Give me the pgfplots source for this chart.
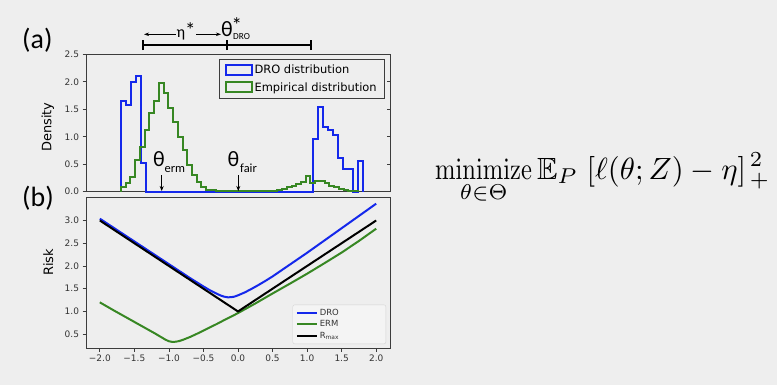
\documentclass[border=0pt]{standalone}
\usepackage{amsmath,amssymb}
\usepackage[no-math]{fontspec}
\setmainfont{DejaVu Sans}
\newfontfamily\carl{Carlito}
\usepackage{pgfplots}
\pgfplotsset{compat=1.18}
\usetikzlibrary{arrows.meta}
\definecolor{bg}{RGB}{238,238,238}
\definecolor{dro}{RGB}{20,40,235}
\definecolor{emp}{RGB}{55,135,35}
\definecolor{frm}{RGB}{60,60,60}
\pgfplotsset{
  droleg/.style={legend image code/.code={\draw[draw=dro,line width=2bp] (0bp,-5bp) rectangle (26bp,5bp);}},
  empleg/.style={legend image code/.code={\draw[draw=emp,line width=2bp] (0bp,-5bp) rectangle (26bp,5bp);}},
}
\begin{document}
\begin{tikzpicture}[x=1bp,y=1bp]
\useasboundingbox (0,0) rectangle (777,385);
\fill[bg] (0,0) rectangle (777,385);

% ---------- (a) histogram panel ----------
\begin{axis}[
  at={(86bp,193.3bp)}, anchor=south west,
  width=304bp, height=137.4bp, scale only axis,
  xmin=-2.2, xmax=2.2, ymin=0, ymax=2.5,
  xtick=\empty,
  ytick={0,0.5,1,1.5,2,2.5},
  yticklabels={0.0,0.5,1.0,1.5,2.0,2.5},
  ytick pos=left, tick align=outside,
  major tick length=3.5bp,
  tick style={frm, line width=0.7bp},
  axis line style={frm, line width=0.8bp},
  ticklabel style={font=\fontsize{9}{10}\selectfont, text=black!80},
  ylabel={Density},
  ylabel style={font=\fontsize{13}{15}\selectfont, at={(axis description cs:-0.126,0.47)}, anchor=center},
  clip=false,
  legend style={at={(0.980,0.966)}, anchor=north east, draw=frm, fill=bg,
    font=\fontsize{11.5}{13}\selectfont, inner xsep=5bp, inner ysep=3.5bp, row sep=3.5bp},
  legend cell align=left,
]
\addplot[draw=dro, line width=2bp, mark=none, forget plot] coordinates {
(-1.695,0) (-1.695,1.65) (-1.6236,1.65) (-1.6236,1.58) (-1.5521,1.58) (-1.5521,2.00)
(-1.4807,2.00) (-1.4807,2.10) (-1.4092,2.10) (-1.4092,0.52) (-1.3378,0.52) (-1.3378,0)
(1.0916,0) (1.0916,0.95) (1.1630,0.95) (1.1630,1.54) (1.2345,1.54) (1.2345,1.18)
(1.3059,1.18) (1.3059,1.12) (1.3774,1.12) (1.3774,1.03) (1.4488,1.03) (1.4488,0.62)
(1.5203,0.62) (1.5203,0.41) (1.6632,0.41) (1.6632,0) (1.7346,0) (1.7346,0.55)
(1.8061,0.55) (1.8061,0)
};
\addplot[draw=emp, line width=2bp, mark=none, forget plot] coordinates {
(-1.695,0) (-1.695,0.09) (-1.6264,0.09) (-1.6264,0.15) (-1.5578,0.15) (-1.5578,0.27)
(-1.4892,0.27) (-1.4892,0.57) (-1.4206,0.57) (-1.4206,0.82) (-1.3520,0.82) (-1.3520,1.12)
(-1.2834,1.12) (-1.2834,1.43) (-1.2148,1.43) (-1.2148,1.65) (-1.1462,1.65) (-1.1462,1.97)
(-1.0776,1.97) (-1.0776,1.80) (-1.0090,1.80) (-1.0090,1.53) (-0.9404,1.53) (-0.9404,1.27)
(-0.8718,1.27) (-0.8718,1.00) (-0.8032,1.00) (-0.8032,0.76) (-0.7346,0.76) (-0.7346,0.48)
(-0.6660,0.48) (-0.6660,0.30) (-0.5974,0.30) (-0.5974,0.18) (-0.5288,0.18) (-0.5288,0.09)
(-0.4602,0.09) (-0.4602,0.04) (-0.3916,0.04) (-0.3916,0.03) (-0.3230,0.03) (-0.3230,0.015)
(-0.2544,0.015) (-0.2544,0.01) (-0.1858,0.01) (-0.1858,0.005) (0.4316,0.005) (0.4316,0.01)
(0.5002,0.01) (0.5002,0.015) (0.5688,0.015) (0.5688,0.03) (0.6374,0.03) (0.6374,0.05)
(0.7060,0.05) (0.7060,0.08) (0.7746,0.08) (0.7746,0.11) (0.8432,0.11) (0.8432,0.14)
(0.9118,0.14) (0.9118,0.17) (0.9804,0.17) (0.9804,0.28) (1.0490,0.28) (1.0490,0.15)
(1.1176,0.15) (1.1176,0.20) (1.1862,0.20) (1.1862,0.19) (1.2548,0.19) (1.2548,0.15)
(1.3234,0.15) (1.3234,0.11) (1.3920,0.11) (1.3920,0.08) (1.4606,0.08) (1.4606,0.05)
(1.5292,0.05) (1.5292,0.03) (1.5978,0.03) (1.5978,0.02) (1.6664,0.02) (1.6664,0.01)
(1.7350,0.01) (1.7350,0)
};
\addlegendimage{droleg}
\addlegendentry{DRO distribution}
\addlegendimage{empleg}
\addlegendentry{Empirical distribution}
\end{axis}
% right-hand inward ticks of panel (a)
\begin{axis}[
  at={(86bp,193.3bp)}, anchor=south west,
  width=304bp, height=137.4bp, scale only axis,
  xmin=-2.2, xmax=2.2, ymin=0, ymax=2.5,
  hide x axis, axis y line*=right, y axis line style={draw=none},
  ytick={0,0.5,1,1.5,2,2.5}, yticklabels={},
  tick align=inside, major tick length=3.5bp,
  tick style={frm, line width=0.7bp},
]
\addplot[draw=none] coordinates {(0,0)};
\end{axis}

% ---------- (b) risk panel ----------
\begin{axis}[
  at={(86bp,36.7bp)}, anchor=south west,
  width=304bp, height=151bp, scale only axis,
  xmin=-2.2, xmax=2.2, ymin=0.19, ymax=3.51,
  xtick={-2,-1.5,-1,-0.5,0,0.5,1,1.5,2},
  xticklabels={−2.0,−1.5,−1.0,−0.5,0.0,0.5,1.0,1.5,2.0},
  ytick={0.5,1,1.5,2,2.5,3},
  yticklabels={0.5,1.0,1.5,2.0,2.5,3.0},
  xtick pos=bottom, ytick pos=left, tick align=outside,
  major tick length=3.5bp,
  tick style={frm, line width=0.7bp},
  axis line style={frm, line width=0.8bp},
  ticklabel style={font=\fontsize{9}{10}\selectfont, text=black!80},
  ylabel={Risk},
  ylabel style={font=\fontsize{13}{15}\selectfont, at={(axis description cs:-0.124,0.57)}, anchor=center},
  legend style={at={(0.987,0.028)}, anchor=south east, draw={rgb,255:red,212;green,212;blue,212},
    fill={rgb,255:red,244;green,244;blue,244}, rounded corners=2bp,
    font=\fontsize{8.5}{10}\selectfont, text=black!80, inner xsep=3bp, inner ysep=2bp},
  legend cell align=left,
  legend image code/.code={\draw[#1] (0bp,0bp) -- (20bp,0bp);},
]
\addplot[draw=dro, line width=2bp, line join=round, mark=none] coordinates {
(-2.0,3.04) (-1.75,2.79) (-1.5,2.54) (-1.25,2.29) (-1.0,2.04) (-0.8,1.84) (-0.7,1.74)
(-0.6,1.645) (-0.5,1.55) (-0.4,1.46) (-0.3,1.385) (-0.25,1.35) (-0.2,1.325) (-0.15,1.312)
(-0.1,1.313) (-0.05,1.327) (0.0,1.355) (0.1,1.42) (0.2,1.50) (0.3,1.585) (0.4,1.675)
(0.5,1.77) (0.75,2.03) (1.0,2.29) (1.25,2.56) (1.5,2.83) (1.75,3.10) (2.0,3.37)
};
\addlegendentry{DRO\hspace*{42bp}}
\addplot[draw=emp, line width=2bp, line join=round, mark=none] coordinates {
(-2.0,1.20) (-1.8,1.025) (-1.6,0.855) (-1.4,0.685) (-1.3,0.60) (-1.2,0.515) (-1.1,0.425)
(-1.05,0.38) (-1.0,0.345) (-0.95,0.33) (-0.9,0.335) (-0.85,0.35) (-0.8,0.375) (-0.7,0.435)
(-0.6,0.505) (-0.5,0.58) (-0.4,0.655) (-0.3,0.73) (-0.2,0.81) (-0.1,0.885) (0.0,0.965)
(0.25,1.175) (0.5,1.395) (0.75,1.61) (1.0,1.83) (1.25,2.06) (1.5,2.295) (1.75,2.55) (2.0,2.82)
};
\addlegendentry{ERM}
\addplot[draw=black, line width=2bp, line join=round, mark=none] coordinates {
(-2.0,3.0) (0.0,1.0) (2.0,3.0)
};
\addlegendentry{R\textsubscript{max}}
\end{axis}

% ---------- annotations ----------
\draw[black, line width=1.8bp] (143.3,340) -- (310.7,340);
\draw[black, line width=1.8bp] (143.3,335) -- (143.3,345) (226.7,335) -- (226.7,345) (310.7,335) -- (310.7,345);
\draw[black, line width=0.8bp, {Stealth[length=5bp,width=3.5bp]}-{Stealth[length=5bp,width=3.5bp]}] (144,350.7) -- (221,350.7);
\node[fill=bg, inner sep=1bp, anchor=base] at (186,347.5) {\carl\fontsize{16}{16}\selectfont η{\fontsize{21}{21}\selectfont*}};
\node[anchor=base west, inner sep=0] at (221,348.3) {\carl\fontsize{22}{22}\selectfont θ};
\node[anchor=base west, inner sep=0] at (231.5,352.5) {\carl\fontsize{21}{21}\selectfont *};
\node[anchor=base west, inner sep=0] at (233,346) {\carl\fontsize{9.3}{10}\selectfont DRO};

\node[anchor=base west, inner sep=0] at (153,218.3) {\carl\fontsize{22}{22}\selectfont θ};
\node[anchor=base west, inner sep=0] at (164.5,212.3) {\carl\fontsize{12.5}{13}\selectfont erm};
\draw[black, line width=1bp, -{Stealth[length=5bp,width=4bp]}] (161.7,210) -- (161.7,194);
\node[anchor=base west, inner sep=0] at (227.5,218.3) {\carl\fontsize{22}{22}\selectfont θ};
\node[anchor=base west, inner sep=0] at (240,212.3) {\carl\fontsize{12.5}{13}\selectfont fair};
\draw[black, line width=1bp, -{Stealth[length=5bp,width=4bp]}] (238.3,210) -- (238.3,194);

\node[anchor=west, inner sep=0] at (22,345) {\carl\fontsize{28}{28}\selectfont (a)};
\node[anchor=west, inner sep=0] at (22,187) {\carl\fontsize{28}{28}\selectfont (b)};

\node[anchor=base west, inner sep=0] at (435,205.7) {\scalebox{3.08}{\fontsize{10}{12}\selectfont
  $\displaystyle \mathop{\scalebox{0.80}[1]{$\mathrm{minimize}$}}\limits_{\theta\in\Theta}\mathbb{E}_P\;[\ell(\theta;Z)-\eta]^{\hspace{1.2bp}2}_{\hspace{1.2bp}+}$}};
\end{tikzpicture}
\end{document}
